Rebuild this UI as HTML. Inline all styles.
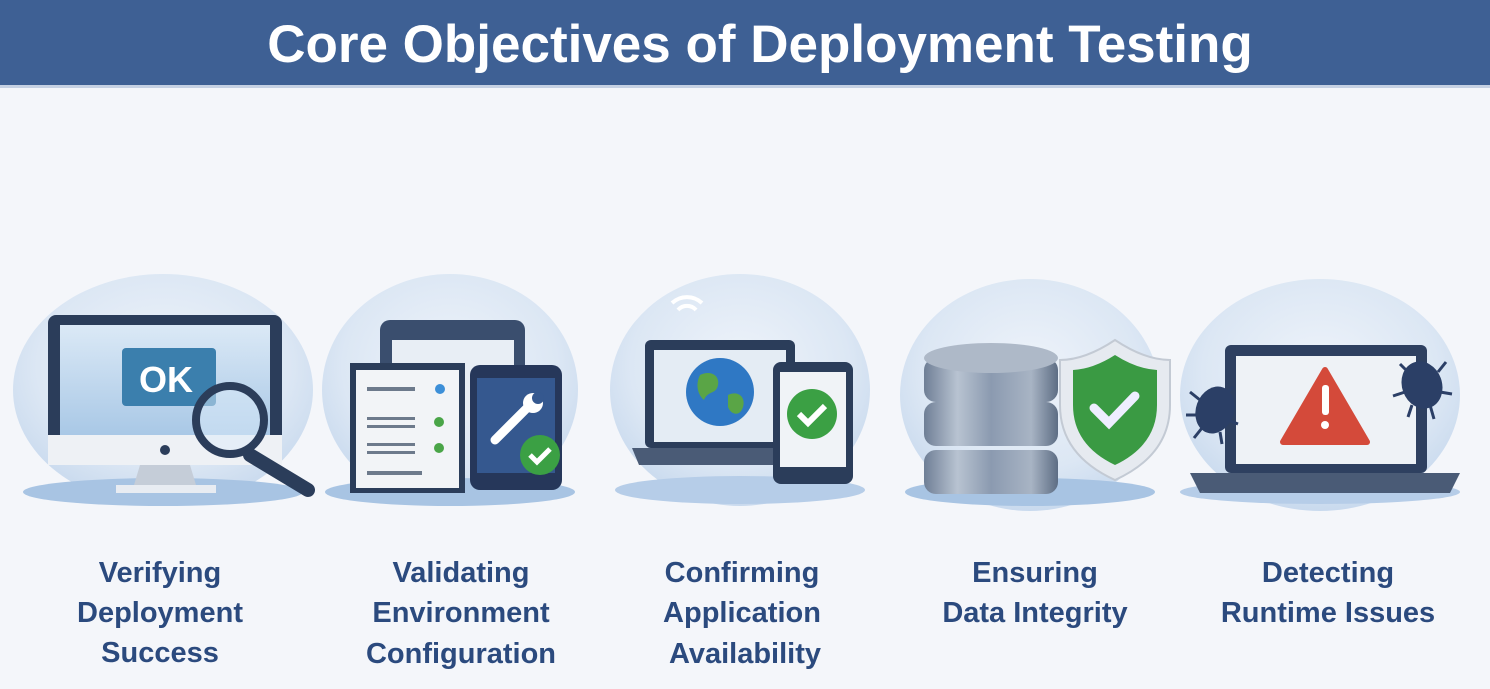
<!DOCTYPE html>
<html><head><meta charset="utf-8"><style>
html,body{margin:0;padding:0;background:#f4f6fa;}
svg{display:block}
text{font-family:"Liberation Sans","DejaVu Sans",sans-serif;}
</style></head><body>
<svg width="1490" height="689" viewBox="0 0 1490 689" xmlns="http://www.w3.org/2000/svg">
<defs>
<radialGradient id="bub" cx="50%" cy="40%" r="60%">
<stop offset="0" stop-color="#eef3fa"/><stop offset="0.7" stop-color="#dce7f4"/><stop offset="1" stop-color="#c9daee"/>
</radialGradient>
<linearGradient id="scr" x1="0" y1="0" x2="0" y2="1"><stop offset="0" stop-color="#dbe9f6"/><stop offset="1" stop-color="#a9c8e6"/></linearGradient>
<linearGradient id="cyl" x1="0" y1="0" x2="1" y2="0"><stop offset="0" stop-color="#6f7f96"/><stop offset="0.25" stop-color="#b8c3d1"/><stop offset="0.5" stop-color="#8b9ab0"/><stop offset="0.8" stop-color="#a8b4c4"/><stop offset="1" stop-color="#5d6d84"/></linearGradient>
</defs>
<rect width="1490" height="689" fill="#f4f6fa"/>
<rect width="1490" height="85" fill="#3e6094"/>
<rect y="85" width="1490" height="3" fill="#c5d1e3"/>
<text x="760" y="62" font-size="53" font-weight="bold" fill="#fff" text-anchor="middle">Core Objectives of Deployment Testing</text>

<g>
<ellipse cx="163" cy="390" rx="150" ry="116" fill="url(#bub)"/>
<ellipse cx="450" cy="390" rx="128" ry="116" fill="url(#bub)"/>
<ellipse cx="740" cy="390" rx="130" ry="116" fill="url(#bub)"/>
<ellipse cx="1030" cy="395" rx="130" ry="116" fill="url(#bub)"/>
<ellipse cx="1320" cy="395" rx="140" ry="116" fill="url(#bub)"/>
<ellipse cx="163" cy="492" rx="140" ry="14" fill="#a8c4e3"/>
<ellipse cx="450" cy="492" rx="125" ry="14" fill="#a8c4e3"/>
<ellipse cx="740" cy="490" rx="125" ry="14" fill="#b6cde8"/>
<ellipse cx="1030" cy="492" rx="125" ry="14" fill="#a8c4e3"/>
<ellipse cx="1320" cy="492" rx="140" ry="12" fill="#b6cde8"/>
</g>

<g>
<rect x="48" y="315" width="234" height="150" rx="8" fill="#2b3d5a"/>
<rect x="60" y="325" width="210" height="110" fill="url(#scr)"/>
<rect x="48" y="435" width="234" height="30" fill="#eef1f5"/>
<circle cx="165" cy="450" r="5" fill="#2b3d5a"/>
<path d="M140 465h50l6 20h-62z" fill="#c5cdd8"/>
<rect x="116" y="485" width="100" height="8" fill="#e8ecf2"/>
<rect x="122" y="348" width="94" height="58" rx="4" fill="#3b7fad"/>
<text x="166" y="392" font-size="36" font-weight="bold" fill="#fff" text-anchor="middle">OK</text>
<line x1="250" y1="455" x2="308" y2="490" stroke="#2b3d5a" stroke-width="14" stroke-linecap="round"/>
<circle cx="230" cy="420" r="34" fill="rgba(220,235,250,0.5)" stroke="#2b3d5a" stroke-width="8"/>
</g>

<g>
<rect x="380" y="320" width="145" height="100" rx="10" fill="#3a4e6e"/>
<rect x="392" y="340" width="122" height="80" fill="#e8eef5"/>
<rect x="350" y="363" width="115" height="130" fill="#2b3d5a"/>
<rect x="356" y="370" width="103" height="118" fill="#f2f4f7"/>
<g fill="#6d7a8c"><rect x="367" y="387" width="48" height="4"/><rect x="367" y="417" width="48" height="3"/><rect x="367" y="425" width="48" height="3"/><rect x="367" y="443" width="48" height="3"/><rect x="367" y="451" width="48" height="3"/><rect x="367" y="471" width="55" height="4"/></g>
<circle cx="440" cy="389" r="5" fill="#3d8fd8"/><circle cx="439" cy="422" r="5" fill="#4aa548"/><circle cx="439" cy="448" r="5" fill="#4aa548"/>
<rect x="470" y="365" width="92" height="125" rx="10" fill="#26375a"/>
<rect x="477" y="378" width="78" height="95" fill="#35588f"/>
<path d="M495 440 L530 405" stroke="#fff" stroke-width="9" stroke-linecap="round"/>
<circle cx="533" cy="403" r="10" fill="#fff"/><circle cx="538" cy="398" r="6" fill="#35588f"/>
<circle cx="540" cy="455" r="20" fill="#3ba044"/>
<path d="M530 455l7 7 13-13" stroke="#fff" stroke-width="5" fill="none"/>
</g>

<g>
<path d="M672 303a22 22 0 0 1 30 0M678 310a12 12 0 0 1 18 0" stroke="#fff" stroke-width="4" fill="none"/>
<rect x="645" y="340" width="150" height="108" rx="6" fill="#2b3d5a"/>
<rect x="654" y="350" width="132" height="92" fill="#e4ecf4"/>
<path d="M632 448h175l-8 17h-160z" fill="#4a5b76"/>
<circle cx="720" cy="392" r="34" fill="#2f78c4"/>
<path d="M700 375c10-5 20 0 18 10s-10 5-14 15c-6-5-9-15-4-25zM728 395c10-5 18 2 15 12s-12 8-15 0z" fill="#5aa546"/>
<rect x="773" y="362" width="80" height="122" rx="8" fill="#2b3d5a"/>
<rect x="780" y="372" width="66" height="95" fill="#f0f3f7"/>
<circle cx="812" cy="414" r="25" fill="#3ba044"/>
<path d="M799 414l9 9 17-17" stroke="#fff" stroke-width="6" fill="none"/>
</g>

<g>
<rect x="924" y="450" width="134" height="44" rx="12" fill="url(#cyl)"/>
<rect x="924" y="402" width="134" height="44" rx="12" fill="url(#cyl)"/>
<rect x="924" y="358" width="134" height="44" rx="12" fill="url(#cyl)"/>
<ellipse cx="991" cy="358" rx="67" ry="15" fill="#aeb9c8"/>
<path d="M1115 340 q30 20 55 20 v45 q0 50 -55 75 q-55 -25 -55 -75 v-45 q25 0 55 -20z" fill="#e6eaf0" stroke="#c3cad4" stroke-width="2"/>
<path d="M1115 355 q22 14 42 15 v35 q0 40 -42 60 q-42 -20 -42 -60 v-35 q20 -1 42 -15z" fill="#3a9a43"/>
<path d="M1094 408l15 15 26 -27" stroke="#eef" stroke-width="9" fill="none" stroke-linecap="round"/>
</g>

<g>
<rect x="1225" y="345" width="202" height="128" rx="6" fill="#2e4060"/>
<rect x="1236" y="356" width="180" height="108" fill="#eef2f6"/>
<path d="M1190 473h270l-10 20h-250z" fill="#4a5b76"/>
<path d="M1325 370l42 72h-84z" fill="#d44a3a" stroke="#d44a3a" stroke-width="6" stroke-linejoin="round"/>
<rect x="1322" y="385" width="7" height="30" rx="3" fill="#fff"/><circle cx="1325" cy="425" r="4" fill="#fff"/>
<g stroke="#2b3f66" stroke-width="3" fill="none">
<path d="M1200 400l-10-8M1198 415l-12 0M1202 428l-8 10M1225 395l8-8M1228 420l10 4M1220 432l2 12"/>
<path d="M1408 372l-8-8M1405 392l-12 4M1438 372l8-10M1440 392l12 2M1430 405l4 14M1412 405l-4 12"/>
</g>
<ellipse cx="1215" cy="410" rx="19" ry="24" fill="#2b3f66" transform="rotate(20 1215 410)"/>
<ellipse cx="1422" cy="385" rx="20" ry="24" fill="#2b3f66" transform="rotate(-20 1422 385)"/>
</g>

<g font-size="29" font-weight="bold" fill="#2b4a7e" text-anchor="middle">
<text x="160" y="582">Verifying</text><text x="160" y="622">Deployment</text><text x="160" y="662">Success</text>
<text x="461" y="582">Validating</text><text x="461" y="622">Environment</text><text x="461" y="663">Configuration</text>
<text x="742" y="582">Confirming</text><text x="742" y="622">Application</text><text x="745" y="663">Availability</text>
<text x="1035" y="582">Ensuring</text><text x="1035" y="622">Data Integrity</text>
<text x="1328" y="582">Detecting</text><text x="1328" y="622">Runtime Issues</text>
</g>
</svg>
</body></html>
